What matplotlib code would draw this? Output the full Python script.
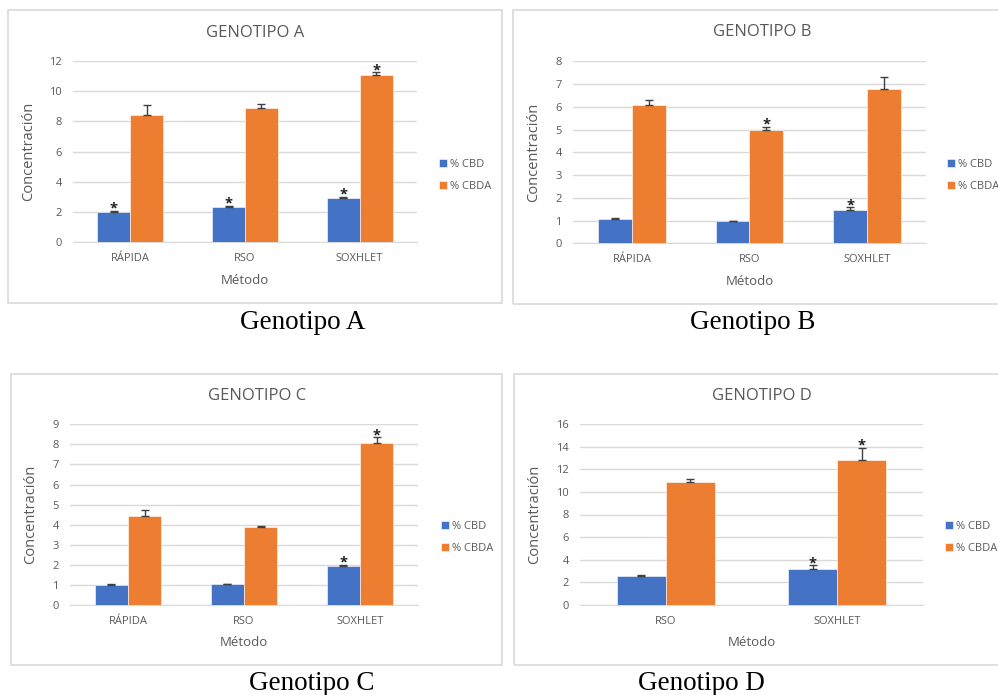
import numpy as np
import matplotlib
matplotlib.use("Agg")
import matplotlib.pyplot as plt
from matplotlib.patches import Rectangle

# -------------------------------------------------------------------
# Data: concentration (%) per extraction method and genotype
# -------------------------------------------------------------------
metodos_abc = ["RÁPIDA", "RSO", "SOXHLET"]
metodos_d = ["RSO", "SOXHLET"]

cbd_a = [2.0, 2.3, 2.9]
cbda_a = [8.4, 8.9, 11.1]
cbd_a_err = [0.08, 0.08, 0.08]
cbda_a_err = [0.65, 0.22, 0.15]

cbd_b = [1.05, 0.97, 1.48]
cbda_b = [6.07, 5.0, 6.8]
cbd_b_err = [0.07, 0.03, 0.1]
cbda_b_err = [0.23, 0.12, 0.5]

cbd_c = [1.0, 1.03, 1.93]
cbda_c = [4.45, 3.87, 8.07]
cbd_c_err = [0.07, 0.03, 0.07]
cbda_c_err = [0.28, 0.07, 0.28]

cbd_d = [2.6, 3.2]
cbda_d = [10.85, 12.85]
cbd_d_err = [0.07, 0.3]
cbda_d_err = [0.25, 1.05]

# significance markers (True = "*")
sig_cbd_a = [True, True, True]
sig_cbda_a = [False, False, True]
sig_cbd_b = [False, False, True]
sig_cbda_b = [False, True, False]
sig_cbd_c = [False, False, True]
sig_cbda_c = [False, False, True]
sig_cbd_d = [False, True]
sig_cbda_d = [False, True]

# -------------------------------------------------------------------
# Style
# -------------------------------------------------------------------
W, H = 998, 695
BLUE = "#4472C4"
ORANGE = "#ED7D31"
GRID = "#D9D9D9"
TXT = "#595959"
plt.rcParams["font.family"] = ["Open Sans", "DejaVu Sans"]

fig = plt.figure(figsize=(W / 100, H / 100), dpi=100)
fig.patch.set_facecolor("white")


def fx(x):
    return x / W


def fy(y):
    return 1 - y / H


def panel(box, ax_px, ymax, ystep, cats, cbd, cbda, cbd_err, cbda_err,
          sig_cbd, sig_cbda, title, title_xy, ylab_x, xlab_y, legend_xy,
          caption_xy, caption):
    # outer frame
    bx0, by0, bx1, by1 = box
    fig.patches.append(Rectangle((fx(bx0), fy(by1)), fx(bx1 - bx0), (by1 - by0) / H,
                                 transform=fig.transFigure, fill=False,
                                 edgecolor=GRID, linewidth=1.2))
    l, r, t, b = ax_px
    ax = fig.add_axes([fx(l), fy(b), fx(r - l), (b - t) / H])
    n = len(cats)
    x = np.arange(n)
    w = 0.287
    ax.bar(x - w / 2, cbd, w, color=BLUE, edgecolor="white", linewidth=0.4,
           label="% CBD", zorder=3)
    ax.bar(x + w / 2, cbda, w, color=ORANGE, edgecolor="white", linewidth=0.4,
           label="% CBDA", zorder=3)
    ax.errorbar(x - w / 2, cbd, yerr=[np.zeros(n), cbd_err], fmt="none",
                ecolor="#404040", elinewidth=1, capsize=3, capthick=1, zorder=4)
    ax.errorbar(x + w / 2, cbda, yerr=[np.zeros(n), cbda_err], fmt="none",
                ecolor="#404040", elinewidth=1, capsize=3, capthick=1, zorder=4)
    for i in range(n):
        if sig_cbd[i]:
            ax.annotate("*", (x[i] - w / 2, cbd[i] + cbd_err[i]),
                        xytext=(0, -3.5), textcoords="offset points",
                        ha="center", va="bottom", fontsize=10.5,
                        fontweight="bold", color="#222222", zorder=5)
        if sig_cbda[i]:
            ax.annotate("*", (x[i] + w / 2, cbda[i] + cbda_err[i]),
                        xytext=(0, -3.5), textcoords="offset points",
                        ha="center", va="bottom", fontsize=10.5,
                        fontweight="bold", color="#222222", zorder=5)

    ax.set_xlim(-0.5, n - 0.5)
    ax.set_ylim(0, ymax)
    ax.set_yticks(np.arange(0, ymax + ystep / 2, ystep))
    ax.set_xticks(x)
    ax.set_xticklabels(cats)
    ax.yaxis.grid(True, color=GRID, linewidth=1, zorder=0)
    ax.set_axisbelow(True)
    for s in ["top", "right", "left"]:
        ax.spines[s].set_visible(False)
    ax.spines["bottom"].set_color(GRID)
    ax.tick_params(axis="both", length=0, labelsize=8, colors=TXT)
    ax.tick_params(axis="x", pad=8)
    ax.tick_params(axis="y", pad=8)

    ax.set_ylabel("Concentración", fontsize=10.5, color=TXT)
    ax.yaxis.set_label_coords((ylab_x - l) / (r - l), 0.5)
    ax.set_xlabel("Método", fontsize=9.5, color=TXT, va="center")
    ax.xaxis.set_label_coords(0.5, -(xlab_y - b) / (b - t))

    fig.text(fx(title_xy[0]), fy(title_xy[1]), title, ha="center", va="center",
             fontsize=12, color=TXT)
    ax.legend(loc="center left", bbox_to_anchor=(fx(legend_xy[0]), fy(legend_xy[1])),
              bbox_transform=fig.transFigure, frameon=False, fontsize=8,
              handlelength=0.75, handleheight=0.75, handletextpad=0.25,
              labelspacing=1.0, labelcolor=TXT, borderpad=0, borderaxespad=0)
    fig.text(fx(caption_xy[0]), fy(caption_xy[1]), caption, ha="center",
             va="center", fontsize=19.5, family="Liberation Serif", color="black")
    return ax


panel((8, 10, 502, 303), (73, 417, 61, 242), 12, 2, metodos_abc,
      cbd_a, cbda_a, cbd_a_err, cbda_a_err, sig_cbd_a, sig_cbda_a,
      "GENOTIPO A", (255, 33), 36, 280, (439, 175.5), (303, 322), "Genotipo A")
panel((513, 10, 1010, 304), (573, 926, 61.3, 243.3), 8, 1, metodos_abc,
      cbd_b, cbda_b, cbd_b_err, cbda_b_err, sig_cbd_b, sig_cbda_b,
      "GENOTIPO B", (762, 32), 541, 281, (947, 175.5), (753, 322), "Genotipo B")
panel((11, 374, 502, 665), (70, 418, 424.3, 605), 9, 1, metodos_abc,
      cbd_c, cbda_c, cbd_c_err, cbda_c_err, sig_cbd_c, sig_cbda_c,
      "GENOTIPO C", (257, 396), 38, 642, (441, 537.5), (312, 684), "Genotipo C")
panel((514, 374, 1010, 665), (580, 923, 424, 605), 16, 2, metodos_d,
      cbd_d, cbda_d, cbd_d_err, cbda_d_err, sig_cbd_d, sig_cbda_d,
      "GENOTIPO D", (762, 396), 542, 642, (945, 537.5), (701, 684), "Genotipo D")

fig.savefig("out.png", dpi=100)
